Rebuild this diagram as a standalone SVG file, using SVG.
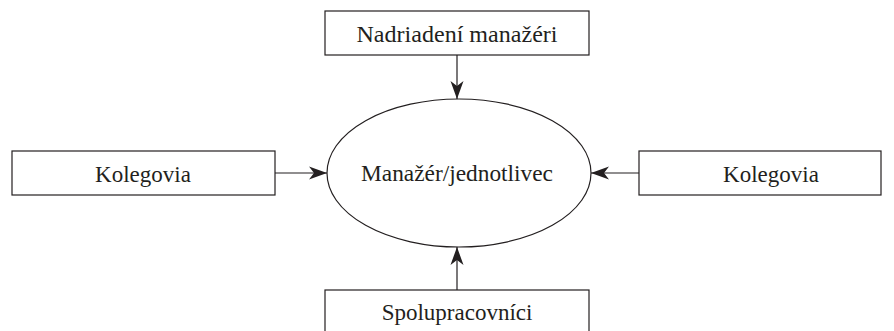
<svg xmlns="http://www.w3.org/2000/svg" width="894" height="331" viewBox="0 0 894 331">
<style>
.box{fill:#fff;stroke:#231f20;stroke-width:1.2}
.lbl{font-family:"Liberation Serif",serif;font-size:23px;fill:#231f20;text-anchor:middle}
.con{stroke:#231f20;stroke-width:1.2;fill:none;marker-end:url(#ah)}
</style>
<defs>
<marker id="ah" markerUnits="userSpaceOnUse" markerWidth="20" markerHeight="14" refX="18" refY="7" orient="auto">
<path d="M0,0.5 L18,7 L0,13.5 L5,7 Z" fill="#231f20"/>
</marker>
</defs>
<rect width="894" height="331" fill="#fff"/>
<g id="connectors">
<line class="con" x1="457" y1="55" x2="457" y2="99"/>
<line class="con" x1="275" y1="173" x2="327" y2="173"/>
<line class="con" x1="639" y1="173" x2="591" y2="173"/>
<line class="con" x1="457" y1="290" x2="457" y2="247"/>
</g>
<g id="center">
<ellipse cx="459" cy="173" rx="132" ry="74" fill="#fff" stroke="#231f20" stroke-width="1.2"/>
<text class="lbl" x="457" y="181" textLength="192" lengthAdjust="spacingAndGlyphs">Manažér/jednotlivec</text>
</g>
<g id="top">
<rect class="box" x="325" y="11" width="264" height="44"/>
<text class="lbl" x="457" y="42" textLength="201" lengthAdjust="spacingAndGlyphs">Nadriadení manažéri</text>
</g>
<g id="left">
<rect class="box" x="12" y="151" width="263" height="44"/>
<text class="lbl" x="143" y="182">Kolegovia</text>
</g>
<g id="right">
<rect class="box" x="639" y="151" width="242" height="44"/>
<text class="lbl" x="771" y="182">Kolegovia</text>
</g>
<g id="bottom">
<rect class="box" x="325" y="290" width="264" height="50"/>
<text class="lbl" x="457" y="320">Spolupracovníci</text>
</g>
</svg>
